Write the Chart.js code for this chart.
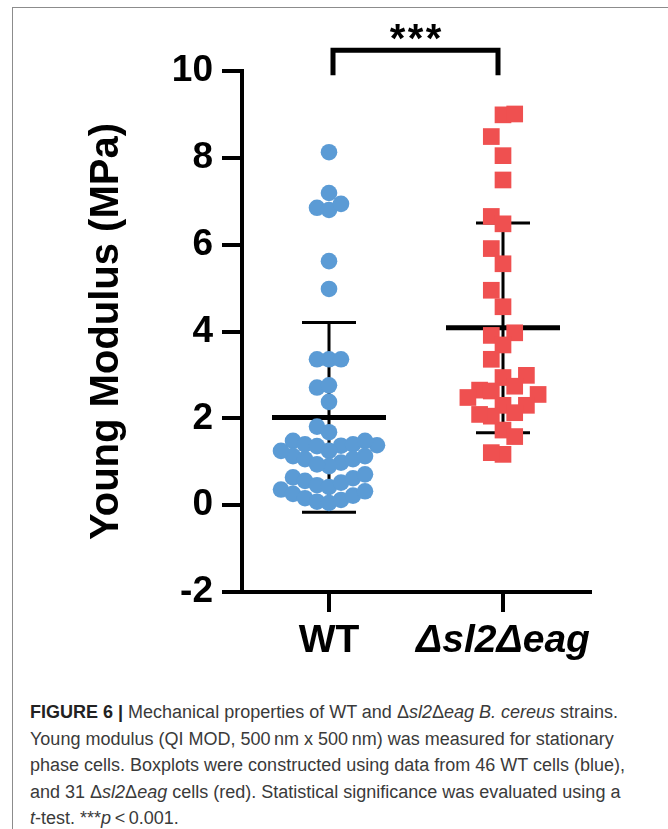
<!DOCTYPE html>
<html>
<head>
<meta charset="utf-8">
<title>Young modulus</title>
<script src="https://cdn.jsdelivr.net/npm/chart.js@4.4.0/dist/chart.umd.min.js"></script>
<style>
  html, body { margin: 0; padding: 0; background: #fff; }
  body { width: 668px; height: 829px; position: relative; overflow: hidden; font-family: 'Liberation Sans', Arial, sans-serif; }
  #frame { position: absolute; left: 12px; top: 7px; width: 700px; height: 900px; border-left: 1px solid #8c8c8c; border-top: 1px solid #8c8c8c; }
  #chart { position: absolute; left: 0; top: 0; }
  #caption { position: absolute; left: 30px; top: 699px; font-size: 18px; line-height: 26.5px; color: #3a3a3a; white-space: nowrap; }
  #caption b { color: #222; }
</style>
</head>
<body>
<div id="frame"></div>
<canvas id="chart" width="668" height="680"></canvas>
<div id="caption">
  <b>FIGURE 6</b> <b>|</b> Mechanical properties of WT and Δ<i>sl2</i>Δ<i>eag B. cereus</i> strains.<br>
  Young modulus (QI MOD, 500&#8239;nm x 500&#8239;nm) was measured for stationary<br>
  phase cells. Boxplots were constructed using data from 46 WT cells (blue),<br>
  and 31 Δ<i>sl2</i>Δ<i>eag</i> cells (red). Statistical significance was evaluated using a<br>
  <i>t</i>-test. ***<i>p</i>&#8201;&lt;&#8201;0.001.
</div>
<script>
const groups = ['WT', 'Δsl2Δeag'];

// Young modulus (MPa)
const wtValues = [
  8.13, 7.19, 6.85, 6.80, 6.94, 5.62, 4.98, 3.36, 3.36, 3.36, 2.71, 2.76, 2.38, 1.81, 1.68,
  1.48, 1.40, 1.37, 1.36, 1.38, 1.40, 1.48,
  1.25, 1.13, 1.06, 0.98, 0.90, 0.94, 1.06, 1.13, 1.25,
  0.64, 0.56, 0.46, 0.36, 0.26, 0.16, 0.08, 0.05, 0.12, 0.22, 0.32, 0.42, 0.52, 0.62, 0.71
];
const mutantValues = [
  8.99, 9.01, 8.49, 8.05, 7.49, 6.65, 6.48, 5.91, 5.56, 4.95, 4.57, 3.97, 3.91, 3.69, 3.36,
  2.99, 2.94, 2.74, 2.65, 2.63, 2.55, 2.48, 2.30, 2.30, 2.13, 2.05, 2.09, 1.73, 1.58, 1.17, 1.21
];
const yTicks = [-2, 0, 2, 4, 6, 8, 10];
const significance = '***';

const blue = '#5b9bd5';
const red = '#ef5050';

function mean(a) { return a.reduce((s, v) => s + v, 0) / a.length; }
function sd(a) {
  const m = mean(a);
  return Math.sqrt(a.reduce((s, v) => s + (v - m) * (v - m), 0) / (a.length - 1));
}

// mean +/- SD bars, drawn under the points
const meanSdPlugin = {
  id: 'meanSd',
  beforeDatasetsDraw(chart) {
    const { ctx, scales: { x, y } } = chart;
    [wtValues, mutantValues].forEach((vals, i) => {
      const cx = x.getPixelForValue(i + 1);
      const m = mean(vals), s = sd(vals);
      const pm = y.getPixelForValue(m);
      const top = y.getPixelForValue(m + s);
      const bot = y.getPixelForValue(m - s);
      ctx.save();
      ctx.strokeStyle = '#000';
      ctx.lineCap = 'butt';
      ctx.lineWidth = 3;
      ctx.beginPath();
      ctx.moveTo(cx, top); ctx.lineTo(cx, bot);
      ctx.moveTo(cx - 27, top); ctx.lineTo(cx + 27, top);
      ctx.moveTo(cx - 27, bot); ctx.lineTo(cx + 27, bot);
      ctx.stroke();
      ctx.lineWidth = 5;
      ctx.beginPath();
      ctx.moveTo(cx - 57, pm); ctx.lineTo(cx + 57, pm);
      ctx.stroke();
      ctx.restore();
    });
  }
};

// significance bracket above the plot
const bracketPlugin = {
  id: 'bracket',
  afterDraw(chart) {
    const { ctx, scales: { x, y } } = chart;
    const x1 = x.getPixelForValue(1) + 4;
    const x2 = x.getPixelForValue(2) - 5;
    const top = y.getPixelForValue(10.48);
    const foot = y.getPixelForValue(9.9);
    ctx.save();
    ctx.strokeStyle = '#000';
    ctx.lineWidth = 5;
    ctx.lineJoin = 'miter';
    ctx.beginPath();
    ctx.moveTo(x1, foot); ctx.lineTo(x1, top); ctx.lineTo(x2, top); ctx.lineTo(x2, foot);
    ctx.stroke();
    ctx.fillStyle = '#000';
    ctx.font = 'bold 40px "Liberation Sans", Arial, sans-serif';
    ctx.textAlign = 'center';
    ctx.textBaseline = 'alphabetic';
    const mid = (x1 + x2) / 2;
    [-18, 0, 18].forEach(dx => ctx.fillText(significance[0], mid + dx, 52));
    ctx.restore();
  }
};

const chart = new Chart(document.getElementById('chart'), {
  type: 'scatter',
  data: {
    datasets: [
      { label: groups[0], data: [], pointStyle: 'circle', pointRadius: 8.3, backgroundColor: blue, borderWidth: 0 },
      { label: groups[1], data: [], pointStyle: 'rect', pointRadius: 11.8, backgroundColor: red, borderWidth: 0 }
    ]
  },
  options: {
    responsive: false,
    animation: false,
    events: [],
    layout: { padding: { left: 83, top: 71, right: 78, bottom: 0 } },
    plugins: { legend: { display: false }, tooltip: { enabled: false } },
    scales: {
      x: {
        type: 'linear',
        min: 0.5,
        max: 2.5,
        afterBuildTicks: scale => { scale.ticks = groups.map((g, i) => ({ value: i + 1 })); },
        afterFit: scale => { scale.height = 88; },
        border: { display: true, color: '#000', width: 4 },
        grid: { drawOnChartArea: false, drawTicks: true, tickLength: 20, color: '#000', lineWidth: 4 },
        ticks: {
          color: '#000',
          padding: 6,
          maxRotation: 0,
          callback: v => groups[v - 1],
          font: ctx => ({ family: '"Liberation Sans", Arial, sans-serif', size: 39, weight: 'bold', style: ctx.index === 1 ? 'italic' : 'normal' })
        }
      },
      y: {
        min: yTicks[0],
        max: yTicks[yTicks.length - 1],
        afterBuildTicks: scale => { scale.ticks = yTicks.map(v => ({ value: v })); },
        afterFit: scale => { scale.width = 159; },
        border: { display: true, color: '#000', width: 4 },
        grid: { drawOnChartArea: false, drawTicks: true, tickLength: 20, color: '#000', lineWidth: 4 },
        ticks: {
          color: '#000',
          padding: 9,
          font: { family: '"Liberation Sans", Arial, sans-serif', size: 37, weight: 'bold' }
        },
        title: {
          display: true,
          text: 'Young Modulus (MPa)',
          color: '#000',
          padding: 0,
          font: { family: '"Liberation Sans", Arial, sans-serif', size: 40, weight: 'bold' }
        }
      }
    }
  },
  plugins: [meanSdPlugin, bracketPlugin]
});

// scatter-dot layout: points sit in columns around the group centre,
// a column only takes a point if it clears the points already in it
function swarm(values, center, stepPx, gapPx, maxCols) {
  const x = chart.scales.x, y = chart.scales.y;
  const pxPerX = x.getPixelForValue(2) - x.getPixelForValue(1);
  const pxPerY = y.getPixelForValue(0) - y.getPixelForValue(1);
  const colOrder = [0];
  for (let k = 1; k <= maxCols; k++) colOrder.push(-k, k);
  const cols = {};
  const out = new Array(values.length);
  const order = values.map((v, i) => i).sort((a, b) => values[a] - values[b]);
  order.forEach(i => {
    const yp = values[i] * pxPerY;
    let best = 0, bestGap = -1;
    for (const c of colOrder) {
      const list = cols[c] || [];
      const gap = list.length ? Math.min(...list.map(q => Math.abs(q - yp))) : Infinity;
      if (gap >= gapPx) { best = c; break; }
      if (gap > bestGap) { bestGap = gap; best = c; }
    }
    (cols[best] = cols[best] || []).push(yp);
    out[i] = { x: center + best * stepPx / pxPerX, y: values[i] };
  });
  return out;
}

chart.data.datasets[0].data = swarm(wtValues, 1, 12, 15, 4);
chart.data.datasets[1].data = swarm(mutantValues, 2, 11.7, 23, 4);
chart.update();
</script>
</body>
</html>
